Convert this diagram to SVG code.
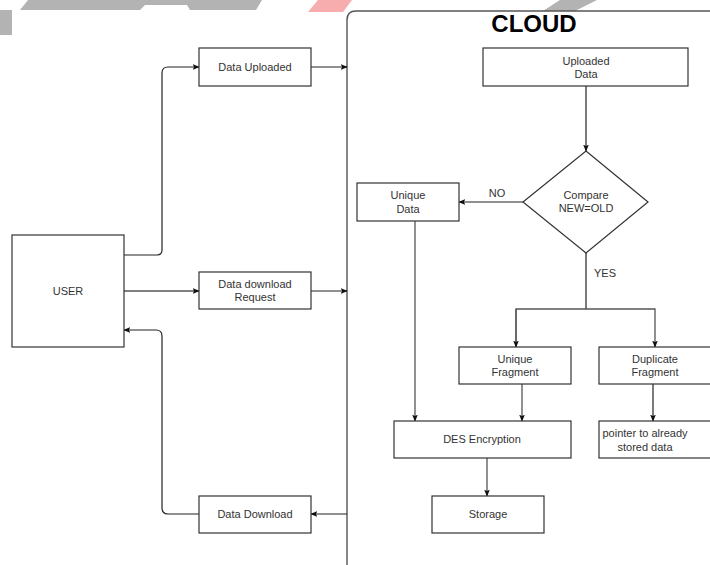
<svg xmlns="http://www.w3.org/2000/svg" width="710" height="565" viewBox="0 0 710 565">
<defs>
<style>
.box{fill:#fff;stroke:#333;stroke-width:1.2}
.t{font-family:"Liberation Sans",Arial,sans-serif;font-size:11px;fill:#333;text-anchor:middle}
.c{fill:none;stroke:#222;stroke-width:1.2}
.c2{fill:none;stroke:#555;stroke-width:1.3}
</style>
<marker id="ah" viewBox="0 0 10 10" refX="9" refY="5" markerWidth="7" markerHeight="7" orient="auto" markerUnits="userSpaceOnUse">
<path d="M0,1 L10,5 L0,9 L2,5 z" fill="#111"/>
</marker>
</defs>
<rect width="710" height="565" fill="#fff"/>
<g id="watermark">
<polygon points="28,0 262,0 256,10 190,10 187,5 145,5 140,10 20,10" fill="#b3b3b3"/>
<rect x="0" y="10" width="12" height="25" fill="#b3b3b3"/>
<polygon points="318,0 352,0 343,12 308,12" fill="#f7adad"/>
<polygon points="560,0 597,0 575,11 543,11" fill="#b3b3b3"/>
</g>
<g id="cloud">
<path d="M347,570 V20 Q347,11 356,11 H712" fill="none" stroke="#555" stroke-width="1.4"/>
<text x="534" y="32" font-family="'Liberation Sans',Arial,sans-serif" font-size="24" font-weight="bold" text-anchor="middle" fill="#000">CLOUD</text>
</g>
<g id="connectors">
<path class="c" d="M124,255 H157 Q162,255 162,250 V73 Q162,67 168,67 H199" marker-end="url(#ah)"/>
<path class="c" d="M311,67 H347" marker-end="url(#ah)"/>
<path class="c2" d="M124,291 H199" marker-end="url(#ah)"/>
<path class="c" d="M311,291 H347" marker-end="url(#ah)"/>
<path class="c" d="M199,514 H168 Q162,514 162,508 V336 Q162,330 156,330 H124" marker-end="url(#ah)"/>
<path class="c" d="M347,514 H311" marker-end="url(#ah)"/>
<path class="c" d="M586,86 V151" marker-end="url(#ah)"/>
<path class="c" d="M523,202 H459" marker-end="url(#ah)"/>
<path class="c" d="M586,253 V309"/>
<path class="c2" d="M516,347 V309 H655 V347" marker-end="url(#ah)"/>
<path class="c2" d="M516,309 V347" marker-end="url(#ah)"/>
<path class="c2" d="M415,221 V421" marker-end="url(#ah)"/>
<path class="c2" d="M522,384 V421" marker-end="url(#ah)"/>
<path class="c" d="M653,384 V421" marker-end="url(#ah)"/>
<path class="c2" d="M487,458 V496" marker-end="url(#ah)"/>
<text class="t" x="497" y="197">NO</text>
<text class="t" x="605" y="277">YES</text>
</g>
<g id="user"><rect class="box" x="12" y="235" width="112" height="112"/><text class="t" x="68" y="295">USER</text></g>
<g id="data-uploaded"><rect class="box" x="199" y="48" width="112" height="38"/><text class="t" x="255" y="71">Data Uploaded</text></g>
<g id="data-download-request"><rect class="box" x="199" y="272" width="112" height="37"/><text class="t" x="255" y="288">Data download</text><text class="t" x="255" y="301">Request</text></g>
<g id="data-download"><rect class="box" x="199" y="496" width="112" height="37"/><text class="t" x="255" y="518">Data Download</text></g>
<g id="uploaded-data"><rect class="box" x="483" y="48" width="205" height="38"/><text class="t" x="586" y="65">Uploaded</text><text class="t" x="586" y="78">Data</text></g>
<g id="compare"><polygon class="box" points="586,151 648,202 586,253 523,202"/><text class="t" x="586" y="199">Compare</text><text class="t" x="586" y="212">NEW=OLD</text></g>
<g id="unique-data"><rect class="box" x="357" y="183" width="102" height="38"/><text class="t" x="408" y="199">Unique</text><text class="t" x="408" y="213">Data</text></g>
<g id="unique-fragment"><rect class="box" x="459" y="347" width="112" height="37"/><text class="t" x="515" y="363">Unique</text><text class="t" x="515" y="376">Fragment</text></g>
<g id="duplicate-fragment"><rect class="box" x="599" y="347" width="115" height="37"/><text class="t" x="655" y="363">Duplicate</text><text class="t" x="655" y="376">Fragment</text></g>
<g id="des-encryption"><rect class="box" x="394" y="421" width="177" height="37"/><text class="t" x="482" y="443">DES Encryption</text></g>
<g id="pointer"><rect class="box" x="599" y="421" width="115" height="37"/><text class="t" x="645" y="437">pointer to already</text><text class="t" x="645" y="451">stored data</text></g>
<g id="storage"><rect class="box" x="432" y="496" width="112" height="37"/><text class="t" x="488" y="518">Storage</text></g>
</svg>
